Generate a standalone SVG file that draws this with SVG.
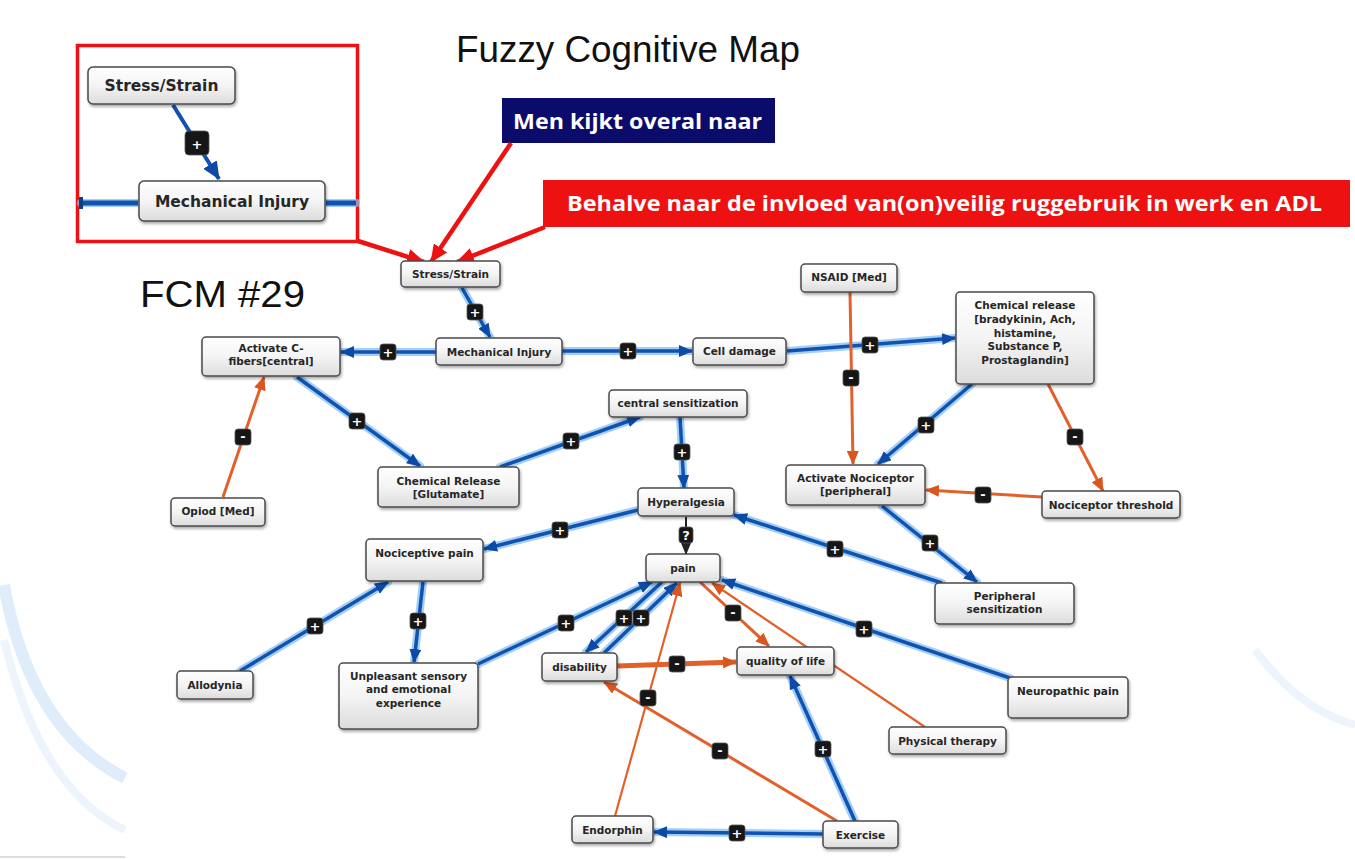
<svg xmlns="http://www.w3.org/2000/svg" width="1355" height="859" viewBox="0 0 1355 859">
<defs>
<style>
.node rect{fill:url(#ng);stroke:#4a4a4a;stroke-width:1.5;filter:url(#sh)}
.node text{font-family:"DejaVu Sans",Verdana,sans-serif;font-weight:bold;font-size:10.5px;fill:#262626;text-anchor:middle}
.big text{font-size:15.5px}
.glow{stroke:#86bdf0;stroke-width:8;fill:none;stroke-linecap:round;opacity:.75}
.eb{stroke:#0f52b0;stroke-width:3.5;fill:none;marker-end:url(#ab)}
.eo{stroke:#e2602a;stroke-width:3;fill:none;marker-end:url(#ao)}
.eo2{stroke:#e2602a;stroke-width:2.2;fill:none;marker-end:url(#ao)}
.eo3{stroke:#e2602a;stroke-width:5;fill:none;marker-end:url(#ao)}
.ek{stroke:#222;stroke-width:2;fill:none;marker-end:url(#ak)}
.er{stroke:#ee1111;stroke-width:4.5;fill:none;marker-end:url(#ar)}
.badge rect{fill:#161616;stroke:#555;stroke-width:.8}
.badge text{font-family:"DejaVu Sans",sans-serif;font-weight:bold;font-size:13px;fill:#fff;text-anchor:middle}
.ann{font-family:"Open Sans","Liberation Sans",sans-serif;font-weight:bold;fill:#fff}
.ttl{font-family:"Liberation Sans",Arial,sans-serif;fill:#111}
</style>
<linearGradient id="ng" x1="0" y1="0" x2="0" y2="1">
<stop offset="0" stop-color="#ffffff"/><stop offset="0.5" stop-color="#f4f4f4"/><stop offset="1" stop-color="#dcdcdc"/>
</linearGradient>
<filter id="sh" x="-20%" y="-20%" width="140%" height="160%">
<feDropShadow dx="1" dy="2" stdDeviation="1.5" flood-color="#000" flood-opacity="0.35"/>
</filter>
<marker id="ab" markerUnits="userSpaceOnUse" markerWidth="14" markerHeight="12" viewBox="0 0 14 12" refX="13" refY="6" orient="auto"><path d="M0,0 L14,6 L0,12 z" fill="#0d4aa6"/></marker>
<marker id="ao" markerUnits="userSpaceOnUse" markerWidth="14" markerHeight="12" viewBox="0 0 14 12" refX="13" refY="6" orient="auto"><path d="M0,0 L14,6 L0,12 z" fill="#d9561f"/></marker>
<marker id="ak" markerUnits="userSpaceOnUse" markerWidth="12" markerHeight="10" viewBox="0 0 12 10" refX="11" refY="5" orient="auto"><path d="M0,0 L12,5 L0,10 z" fill="#222"/></marker>
<marker id="ar" markerUnits="userSpaceOnUse" markerWidth="18" markerHeight="16" viewBox="0 0 18 16" refX="17" refY="8" orient="auto"><path d="M0,0 L18,8 L0,16 z" fill="#ee1111"/></marker>
<marker id="abi" markerUnits="userSpaceOnUse" markerWidth="18" markerHeight="16" viewBox="0 0 18 16" refX="17" refY="8" orient="auto"><path d="M0,0 L18,8 L0,16 z" fill="#0d4aa6"/></marker>
</defs>

<rect x="0" y="0" width="1355" height="859" fill="#ffffff"/>
<g id="background" fill="none">
<path d="M4,585 Q30,730 125,778" stroke="#d6e8f7" stroke-width="12" opacity="0.8"/>
<path d="M4,640 Q40,790 125,830" stroke="#eef4fb" stroke-width="8"/>
<path d="M1255,650 Q1300,710 1355,725" stroke="#eef4fb" stroke-width="8"/>
<line x1="0" y1="857" x2="125" y2="857" stroke="#bbb" stroke-width="1"/>
</g>

<text class="ttl" x="456" y="62" font-size="36" textLength="344" lengthAdjust="spacingAndGlyphs">Fuzzy Cognitive Map</text>
<text class="ttl" x="140" y="307" font-size="37" textLength="165" lengthAdjust="spacingAndGlyphs">FCM #29</text>

<g id="inset">
<rect x="77.5" y="45.5" width="280" height="196" fill="#fff" stroke="#ee1111" stroke-width="3.5"/>
<line x1="81" y1="203" x2="138" y2="203" class="glow" stroke-width="10"/>
<line x1="326" y1="203" x2="356" y2="203" class="glow" stroke-width="10"/>
<line x1="81" y1="203" x2="138" y2="203" stroke="#0f52b0" stroke-width="5"/>
<rect x="79" y="197" width="4" height="12" fill="#0d3f86"/>
<line x1="326" y1="203" x2="356" y2="203" stroke="#0f52b0" stroke-width="5"/>
<line x1="173" y1="105" x2="219" y2="179" stroke="#0f52b0" stroke-width="4" marker-end="url(#abi)"/>
<g class="badge"><rect x="185" y="131" width="24" height="24" rx="4"/><text x="197" y="149" font-size="19">+</text></g>
<g class="node big" id="inset-stress"><rect x="88" y="67" width="147" height="37" rx="5"/><text x="161.5" y="91">Stress/Strain</text></g>
<g class="node big" id="inset-mech"><rect x="139" y="181" width="186" height="40" rx="5"/><text x="232" y="207">Mechanical Injury</text></g>
</g>

<g id="annotations">
<rect x="502" y="98" width="273" height="45" fill="#0b0b6b"/>
<text class="ann" x="513" y="129" font-size="21" textLength="249" lengthAdjust="spacingAndGlyphs">Men kijkt overal naar</text>
<rect x="543" y="180" width="807" height="47" fill="#ee1111"/>
<text class="ann" x="567" y="211" font-size="21" textLength="755" lengthAdjust="spacingAndGlyphs">Behalve naar de invloed van(on)veilig ruggebruik in werk en ADL</text>
<path class="er" d="M358,241 L424,262"/>
<path class="er" d="M511,143 L431,262"/>
<path class="er" d="M545,227 L457,262"/>
</g>

<g id="connectors">
<g id="glows">
<path class="glow" d="M462,288 L490,337"/>
<path class="glow" d="M436,352 L341,352"/>
<path class="glow" d="M562,351 L692,351"/>
<path class="glow" d="M787,351 L955,338"/>
<path class="glow" d="M972,384 L878,464"/>
<path class="glow" d="M882,506 L977,582"/>
<path class="glow" d="M942,583 L734,515"/>
<path class="glow" d="M297,377 L420,466"/>
<path class="glow" d="M500,467 L640,417"/>
<path class="glow" d="M680,417 L684,488"/>
<path class="glow" d="M638,510 L484,549"/>
<path class="glow" d="M240,671 L388,582"/>
<path class="glow" d="M423,582 L414,662"/>
<path class="glow" d="M478,664 L652,582"/>
<path class="glow" d="M662,582 L586,652"/>
<path class="glow" d="M604,653 L677,583"/>
<path class="glow" d="M855,821 L790,676"/>
<path class="glow" d="M823,834 L654,832"/>
<path class="glow" d="M1010,678 L722,580"/>
</g>
<path class="eb" d="M462,288 L490,337"/>
<path class="eb" d="M436,352 L341,352"/>
<path class="eb" d="M562,351 L692,351"/>
<path class="eb" d="M787,351 L955,338"/>
<path class="eo" d="M850,292 L853,464"/>
<path class="eb" d="M972,384 L878,464"/>
<path class="eo" d="M1048,384 L1103,491"/>
<path class="eo" d="M1042,497 L926,490"/>
<path class="eb" d="M882,506 L977,582"/>
<path class="eb" d="M942,583 L734,515"/>
<path class="eb" d="M297,377 L420,466"/>
<path class="eo" d="M223,497 L264,377"/>
<path class="eb" d="M500,467 L640,417"/>
<path class="eb" d="M680,417 L684,488"/>
<path class="ek" d="M686,517 L686,554"/>
<path class="eb" d="M638,510 L484,549"/>
<path class="eb" d="M240,671 L388,582"/>
<path class="eb" d="M423,582 L414,662"/>
<path class="eb" d="M478,664 L652,582"/>
<path class="eb" d="M662,582 L586,652"/>
<path class="eb" d="M604,653 L677,583"/>
<path class="eo2" d="M615,816 L680,583"/>
<path class="eo" d="M837,821 L604,682"/>
<path class="eb" d="M855,821 L790,676"/>
<path class="eb" d="M823,834 L654,832"/>
<path class="eo3" d="M617,666 L736,662"/>
<path class="eo" d="M700,582 L769,646"/>
<path class="eo2" d="M925,727 L712,583"/>
<path class="eb" d="M1010,678 L722,580"/>

<g id="badges">
<g class="badge" transform="translate(475,312)"><rect x="-8" y="-8" width="16" height="16" rx="3"/><text y="5">+</text></g>
<g class="badge" transform="translate(388,352)"><rect x="-8" y="-8" width="16" height="16" rx="3"/><text y="5">+</text></g>
<g class="badge" transform="translate(628,351)"><rect x="-8" y="-8" width="16" height="16" rx="3"/><text y="5">+</text></g>
<g class="badge" transform="translate(870,345)"><rect x="-8" y="-8" width="16" height="16" rx="3"/><text y="5">+</text></g>
<g class="badge" transform="translate(851,378)"><rect x="-8" y="-8" width="16" height="16" rx="3"/><text y="4">-</text></g>
<g class="badge" transform="translate(926,425)"><rect x="-8" y="-8" width="16" height="16" rx="3"/><text y="5">+</text></g>
<g class="badge" transform="translate(1075,437)"><rect x="-8" y="-8" width="16" height="16" rx="3"/><text y="4">-</text></g>
<g class="badge" transform="translate(983,495)"><rect x="-8" y="-8" width="16" height="16" rx="3"/><text y="4">-</text></g>
<g class="badge" transform="translate(930,543)"><rect x="-8" y="-8" width="16" height="16" rx="3"/><text y="5">+</text></g>
<g class="badge" transform="translate(835,549)"><rect x="-8" y="-8" width="16" height="16" rx="3"/><text y="5">+</text></g>
<g class="badge" transform="translate(357,421)"><rect x="-8" y="-8" width="16" height="16" rx="3"/><text y="5">+</text></g>
<g class="badge" transform="translate(243,437)"><rect x="-8" y="-8" width="16" height="16" rx="3"/><text y="4">-</text></g>
<g class="badge" transform="translate(571,441)"><rect x="-8" y="-8" width="16" height="16" rx="3"/><text y="5">+</text></g>
<g class="badge" transform="translate(682,452)"><rect x="-8" y="-8" width="16" height="16" rx="3"/><text y="5">+</text></g>
<g class="badge" transform="translate(686,536)"><rect x="-7" y="-9" width="14" height="16" rx="3"/><text y="4" font-size="12">?</text></g>
<g class="badge" transform="translate(560,530)"><rect x="-8" y="-8" width="16" height="16" rx="3"/><text y="5">+</text></g>
<g class="badge" transform="translate(315,626)"><rect x="-8" y="-8" width="16" height="16" rx="3"/><text y="5">+</text></g>
<g class="badge" transform="translate(418,621)"><rect x="-8" y="-8" width="16" height="16" rx="3"/><text y="5">+</text></g>
<g class="badge" transform="translate(566,623)"><rect x="-8" y="-8" width="16" height="16" rx="3"/><text y="5">+</text></g>
<g class="badge" transform="translate(624,618)"><rect x="-8" y="-8" width="16" height="16" rx="3"/><text y="5">+</text></g>
<g class="badge" transform="translate(641,618)"><rect x="-8" y="-8" width="16" height="16" rx="3"/><text y="5">+</text></g>
<g class="badge" transform="translate(648,698)"><rect x="-8" y="-8" width="16" height="16" rx="3"/><text y="4">-</text></g>
<g class="badge" transform="translate(720,751)"><rect x="-8" y="-8" width="16" height="16" rx="3"/><text y="4">-</text></g>
<g class="badge" transform="translate(823,749)"><rect x="-8" y="-8" width="16" height="16" rx="3"/><text y="5">+</text></g>
<g class="badge" transform="translate(737,833)"><rect x="-8" y="-8" width="16" height="16" rx="3"/><text y="5">+</text></g>
<g class="badge" transform="translate(677,664)"><rect x="-8" y="-8" width="16" height="16" rx="3"/><text y="4">-</text></g>
<g class="badge" transform="translate(733,613)"><rect x="-8" y="-8" width="16" height="16" rx="3"/><text y="4">-</text></g>
<g class="badge" transform="translate(864,629)"><rect x="-8" y="-8" width="16" height="16" rx="3"/><text y="5">+</text></g>
</g>
</g>

<g id="n-stress" class="node"><rect x="401" y="261" width="99" height="26" rx="4"/><text x="450.5" y="278">Stress/Strain</text></g>
<g id="n-mech" class="node"><rect x="436" y="338" width="126" height="27" rx="4"/><text x="499" y="356">Mechanical Injury</text></g>
<g id="n-cell" class="node"><rect x="693" y="338" width="93" height="27" rx="4"/><text x="739.5" y="355">Cell damage</text></g>
<g id="n-actc" class="node"><rect x="202" y="337" width="138" height="39" rx="4"/><text x="271" y="352">Activate C-</text><text x="271" y="365">fibers[central]</text></g>
<g id="n-nsaid" class="node"><rect x="801" y="264" width="96" height="28" rx="4"/><text x="849" y="281">NSAID [Med]</text></g>
<g id="n-chem" class="node"><rect x="956" y="292" width="138" height="92" rx="4"/><text x="1025" y="309">Chemical release</text><text x="1025" y="323">[bradykinin, Ach,</text><text x="1025" y="337">histamine,</text><text x="1025" y="350">Substance P,</text><text x="1025" y="364">Prostaglandin]</text></g>
<g id="n-central" class="node"><rect x="609" y="390" width="138" height="27" rx="4"/><text x="678" y="407">central sensitization</text></g>
<g id="n-glut" class="node"><rect x="378" y="467" width="141" height="40" rx="4"/><text x="448.5" y="485">Chemical Release</text><text x="448.5" y="498">[Glutamate]</text></g>
<g id="n-opiod" class="node"><rect x="171" y="498" width="94" height="28" rx="4"/><text x="218" y="515">Opiod [Med]</text></g>
<g id="n-hyper" class="node"><rect x="638" y="488" width="96" height="28" rx="4"/><text x="686" y="506">Hyperalgesia</text></g>
<g id="n-actnoc" class="node"><rect x="786" y="465" width="139" height="40" rx="4"/><text x="855.5" y="482">Activate Nociceptor</text><text x="855.5" y="495">[peripheral]</text></g>
<g id="n-nocthr" class="node"><rect x="1042" y="491" width="138" height="27" rx="4"/><text x="1111" y="509">Nociceptor threshold</text></g>
<g id="n-nocpain" class="node"><rect x="366" y="539" width="117" height="42" rx="4"/><text x="424.5" y="557">Nociceptive pain</text></g>
<g id="n-pain" class="node"><rect x="646" y="554" width="74" height="28" rx="4"/><text x="683" y="572">pain</text></g>
<g id="n-perisens" class="node"><rect x="935" y="583" width="139" height="41" rx="4"/><text x="1004.5" y="600">Peripheral</text><text x="1004.5" y="613">sensitization</text></g>
<g id="n-allo" class="node"><rect x="177" y="671" width="76" height="28" rx="4"/><text x="215" y="689">Allodynia</text></g>
<g id="n-unpl" class="node"><rect x="339" y="663" width="139" height="66" rx="4"/><text x="408.5" y="680">Unpleasant sensory</text><text x="408.5" y="693">and emotional</text><text x="408.5" y="707">experience</text></g>
<g id="n-disab" class="node"><rect x="542" y="653" width="75" height="28" rx="4"/><text x="579.5" y="671">disability</text></g>
<g id="n-qol" class="node"><rect x="737" y="647" width="97" height="28" rx="4"/><text x="785.5" y="665">quality of life</text></g>
<g id="n-neuro" class="node"><rect x="1008" y="677" width="120" height="41" rx="4"/><text x="1068" y="695">Neuropathic pain</text></g>
<g id="n-phys" class="node"><rect x="889" y="727" width="117" height="27" rx="4"/><text x="947.5" y="745">Physical therapy</text></g>
<g id="n-endo" class="node"><rect x="572" y="816" width="81" height="27" rx="4"/><text x="612.5" y="834">Endorphin</text></g>
<g id="n-exer" class="node"><rect x="823" y="821" width="75" height="27" rx="4"/><text x="860.5" y="839">Exercise</text></g>
</svg>
